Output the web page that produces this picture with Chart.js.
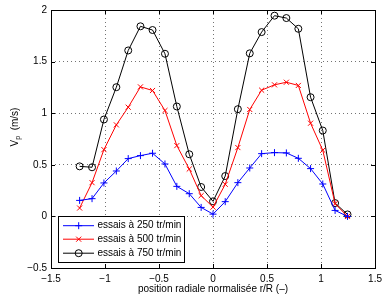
<!DOCTYPE html>
<html>
<head>
<meta charset="utf-8">
<script src="https://cdn.jsdelivr.net/npm/chart.js@4"></script>
<style>
html,body{margin:0;padding:0;background:#fff;}
#wrap{width:387px;height:295px;}
</style>
</head>
<body>
<div id="wrap"><canvas id="c" width="387" height="295"></canvas></div>
<script>
const positions = [-1.235,-1.12,-1.01,-0.895,-0.785,-0.672,-0.56,-0.445,-0.335,-0.22,-0.11,0,0.113,0.23,0.34,0.45,0.569,0.679,0.79,0.903,1.016,1.13,1.245];
const v250 = [0.155,0.172,0.324,0.44,0.56,0.589,0.612,0.508,0.291,0.22,0.087,0.022,0.143,0.327,0.469,0.608,0.618,0.615,0.563,0.463,0.314,0.058,0.0];
const v500 = [0.081,0.327,0.647,0.887,1.058,1.255,1.22,1.026,0.686,0.459,0.201,0.09,0.311,0.667,1.036,1.223,1.275,1.30,1.269,0.903,0.641,0.123,0.0];
const v750 = [0.485,0.476,0.939,1.252,1.608,1.842,1.806,1.576,1.065,0.602,0.285,0.146,0.391,1.039,1.58,1.786,1.945,1.922,1.818,1.155,0.832,0.129,0.019];
const seriesLabels = ['essais à 250 tr/min','essais à 500 tr/min','essais à 750 tr/min'];
const xTicks = [-1.5,-1,-0.5,0,0.5,1,1.5];
const yTicks = [-0.5,0,0.5,1,1.5,2];
const xTitle = 'position radiale normalisée r/R (–)';

const FONT = '"Liberation Sans", Arial, Helvetica, sans-serif';
function pts(ys){ return positions.map((x,i)=>({x:x,y:ys[i]})); }
function fmt(v){ return String(v).replace('-', '−'); }

const frame = {
  id:'frame',
  afterDraw(chart){
    const ctx = chart.ctx, a = chart.chartArea;
    const xs = chart.scales.x, ys = chart.scales.y;
    ctx.save();
    ctx.strokeStyle = '#000'; ctx.lineWidth = 1;
    ctx.beginPath();
    xTicks.forEach(v=>{ const p = Math.round(xs.getPixelForValue(v))+0.5;
      ctx.moveTo(p,a.bottom); ctx.lineTo(p,a.bottom-4);
      ctx.moveTo(p,a.top); ctx.lineTo(p,a.top+4); });
    yTicks.forEach(v=>{ const p = Math.round(ys.getPixelForValue(v))+0.5;
      ctx.moveTo(a.left,p); ctx.lineTo(a.left+4,p);
      ctx.moveTo(a.right,p); ctx.lineTo(a.right-4,p); });
    ctx.stroke();
    ctx.strokeRect(Math.round(a.left)+0.5, Math.round(a.top)+0.5, Math.round(a.right-a.left), Math.round(a.bottom-a.top));

    // legend
    const lx=58.5, ly=216.5, lw=126, lh=46;
    ctx.fillStyle='#fff'; ctx.fillRect(lx,ly,lw,lh);
    ctx.strokeRect(lx,ly,lw,lh);
    const rows=[225.7,239.2,253.2];
    chart.data.datasets.forEach((ds,i)=>{
      const y = rows[i];
      ctx.strokeStyle = ds.borderColor; ctx.lineWidth=1;
      ctx.beginPath(); ctx.moveTo(63,y); ctx.lineTo(94,y); ctx.stroke();
      ctx.fillStyle = ds.backgroundColor;
      Chart.helpers.drawPoint(ctx,{pointStyle:ds.pointStyle,radius:ds.pointRadius,borderWidth:1,rotation:0},78.7,y);
      ctx.fillStyle='#000'; ctx.font='10px '+FONT; ctx.textBaseline='middle'; ctx.textAlign='left';
      ctx.fillText(ds.label, 97.5, y);
    });

    // x title
    ctx.fillStyle='#000'; ctx.font='10px '+FONT; ctx.textAlign='center'; ctx.textBaseline='middle';
    ctx.fillText(xTitle, (a.left+a.right)/2, 289.5);

    // y title V_p (m/s)
    ctx.save();
    ctx.translate(15, (a.top+a.bottom)/2 - 12);
    ctx.rotate(-Math.PI/2);
    ctx.textAlign='left'; ctx.textBaseline='middle';
    const parts = [['V','10px',0],['p','7px',3],['  (m/s)','10px',0]];
    let tw = 0;
    parts.forEach(p=>{ ctx.font=p[1]+' '+FONT; tw += ctx.measureText(p[0]).width; });
    let cx = -tw/2;
    parts.forEach(p=>{ ctx.font=p[1]+' '+FONT; ctx.fillText(p[0], cx, p[2]); cx += ctx.measureText(p[0]).width; });
    ctx.restore();
    ctx.restore();
  }
};

new Chart(document.getElementById('c'), {
  type:'scatter',
  data:{ datasets:[
    {label:seriesLabels[0], data:pts(v250), showLine:true, borderColor:'#0000ff', backgroundColor:'#0000ff', pointStyle:'cross', pointRadius:3.5, pointBorderWidth:1, borderWidth:1, tension:0},
    {label:seriesLabels[1], data:pts(v500), showLine:true, borderColor:'#ff0000', backgroundColor:'#ff0000', pointStyle:'crossRot', pointRadius:3.6, pointBorderWidth:1, borderWidth:1, tension:0},
    {label:seriesLabels[2], data:pts(v750), showLine:true, borderColor:'#000000', backgroundColor:'rgba(0,0,0,0)', pointStyle:'circle', pointRadius:3.5, pointBorderWidth:1, borderWidth:1, tension:0}
  ]},
  options:{
    responsive:false, animation:false, devicePixelRatio:1,
    layout:{padding:{left:0,top:10,right:9,bottom:0}},
    plugins:{legend:{display:false}, tooltip:{enabled:false}},
    elements:{point:{hoverRadius:3.5}},
    scales:{
      x:{type:'linear', min:-1.5, max:1.5,
         afterBuildTicks(s){ s.ticks = xTicks.map(v=>({value:v})); },
         afterFit(s){ s.height = 27; },
         ticks:{callback:v=>fmt(v), color:'#000', font:{family:FONT,size:10}, padding:5, maxRotation:0, autoSkip:false},
         grid:{color:'rgba(0,0,0,0.55)', lineWidth:1, drawTicks:false},
         border:{display:false, dash:[1,3]}},
      y:{type:'linear', min:-0.5, max:2,
         afterBuildTicks(s){ s.ticks = yTicks.map(v=>({value:v})); },
         afterFit(s){ s.width = 51; },
         ticks:{callback:v=>fmt(v), color:'#000', font:{family:FONT,size:10}, padding:4, autoSkip:false},
         grid:{color:'rgba(0,0,0,0.55)', lineWidth:1, drawTicks:false},
         border:{display:false, dash:[1,3]}}
    }
  },
  plugins:[frame]
});
</script>
</body>
</html>
